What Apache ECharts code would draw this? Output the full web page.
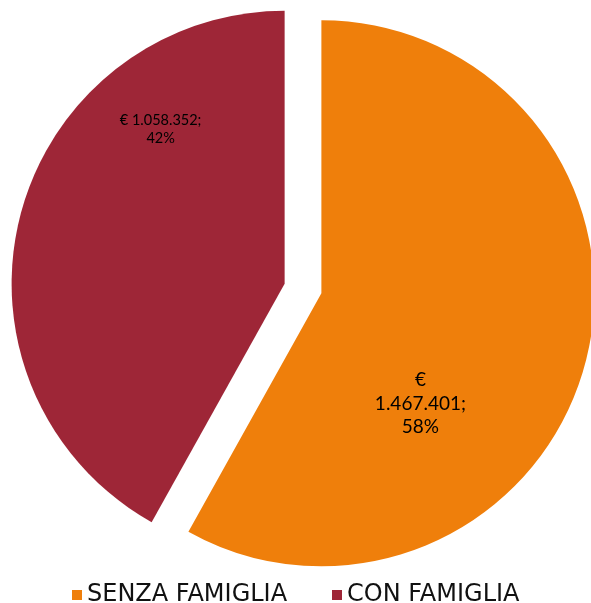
<!DOCTYPE html>
<html>
<head>
<meta charset="utf-8">
<script src="https://cdn.jsdelivr.net/npm/echarts@6/dist/echarts.min.js"></script>
<style>
html,body{margin:0;padding:0;background:#fff;}
#chart{width:591px;height:603px;}
</style>
</head>
<body>
<div id="chart"></div>
<script>
const categories = ['SENZA FAMIGLIA', 'CON FAMIGLIA'];
const values = [1467401, 1058352];
const colors = ['#EF7F0B', '#9E2637'];

function fmtIt(n) {
  return String(n).replace(/\B(?=(\d{3})+(?!\d))/g, '.');
}

const labelStyles = [
  { fontSize: 19, lineHeight: 23.5, sep: '\n', dx: -36, dy: 75 },
  { fontSize: 14.5, lineHeight: 18, sep: ' ', dx: 11, dy: -119 }
];
const legendLefts = [67, 327];

const legendText = { fontFamily: 'DejaVu Sans', fontSize: 24, lineHeight: 24, color: '#111', padding: [0, 0, 0, 0] };

const chart = echarts.init(document.getElementById('chart'), null, { renderer: 'canvas' });
chart.setOption({
  animation: false,
  color: colors,
  legend: categories.map((c, i) => ({
    left: legendLefts[i],
    top: 578,
    icon: 'rect',
    itemWidth: 10,
    itemHeight: 10,
    selectedMode: false,
    textStyle: legendText,
    data: [c]
  })),
  series: [{
    type: 'pie',
    center: [303, 288.5],
    radius: [0, 273],
    startAngle: 90,
    clockwise: true,
    selectedMode: 'multiple',
    selectedOffset: 19,
    avoidLabelOverlap: false,
    emphasis: { disabled: true },
    label: {
      show: true,
      position: 'inside',
      fontFamily: 'Lato',
      color: '#000'
    },
    labelLine: { show: false },
    labelLayout: function (p) {
      const s = labelStyles[p.dataIndex];
      return { dx: s.dx, dy: s.dy };
    },
    data: categories.map((name, i) => ({
      name: name,
      value: values[i],
      selected: true,
      label: {
        fontSize: labelStyles[i].fontSize,
        lineHeight: labelStyles[i].lineHeight,
        formatter: function (p) {
          return '€' + labelStyles[i].sep + fmtIt(p.value) + ';\n' + Math.round(p.percent) + '%';
        }
      }
    }))
  }]
});
</script>
</body>
</html>
